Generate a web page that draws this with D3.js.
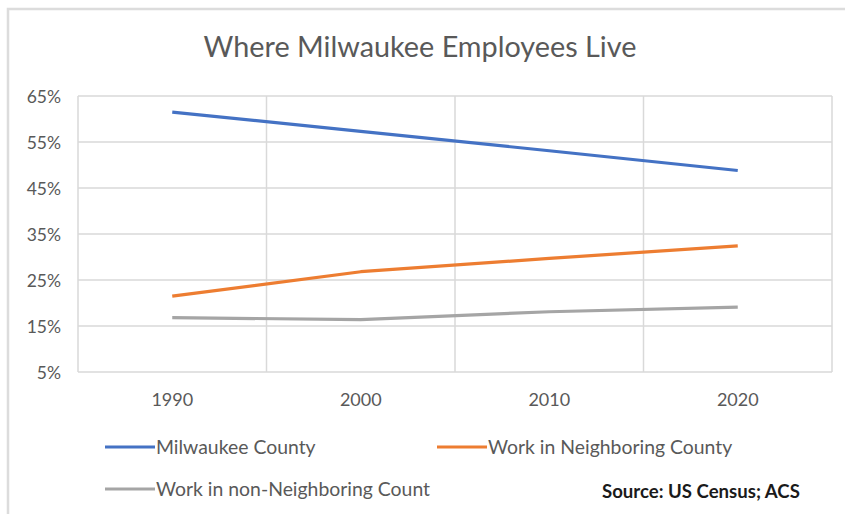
<!DOCTYPE html>
<html>
<head>
<meta charset="utf-8">
<script src="https://cdn.jsdelivr.net/npm/d3@7"></script>
<style>
  html, body { margin: 0; padding: 0; background: #fff; }
  svg { display: block; font-family: Lato, "Open Sans", sans-serif; }
</style>
</head>
<body>
<svg id="chart" width="845" height="514"></svg>
<script>
// Census years on the category axis
const years = ["1990", "2000", "2010", "2020"];

// Share of Milwaukee employees by place of residence (percent)
const milwaukeeCounty = [61.5, 57.3, 53.1, 48.8];
const neighboringCounty = [21.5, 26.8, 29.7, 32.4];
const nonNeighboringCounty = [16.8, 16.4, 18.1, 19.1];

const seriesNames = ["Milwaukee County", "Work in Neighboring County", "Work in non-Neighboring Count"];
const seriesColors = ["#4472C4", "#ED7D31", "#A5A5A5"];

const yTicks = [5, 15, 25, 35, 45, 55, 65];

const chartTitle = "Where Milwaukee Employees Live";
const sourceNote = "Source: US Census; ACS";

const series = [milwaukeeCounty, neighboringCounty, nonNeighboringCounty].map((vals, i) => ({
  name: seriesNames[i],
  color: seriesColors[i],
  values: vals.map((v, j) => ({ year: years[j], value: v }))
}));

const svg = d3.select("#chart");
const W = 845, H = 514;
const plot = { left: 78, right: 832, top: 96, bottom: 372 };

// chart frame (top and left edges)
svg.append("path")
  .attr("d", `M8,${H} L8,9 L${W},9`)
  .attr("fill", "none")
  .attr("stroke", "#dcdcdc")
  .attr("stroke-width", 2.5);

// title
svg.append("text")
  .attr("x", 420).attr("y", 57)
  .attr("text-anchor", "middle")
  .attr("font-size", 28.8)
  .attr("fill", "#595959")
  .text(chartTitle);

const x = d3.scaleBand().domain(years).range([plot.left, plot.right]);
const y = d3.scaleLinear().domain([5, 65]).range([plot.bottom, plot.top]);

// horizontal gridlines
svg.append("g")
  .selectAll("line")
  .data(yTicks)
  .join("line")
  .attr("x1", plot.left).attr("x2", plot.right)
  .attr("y1", d => y(d)).attr("y2", d => y(d))
  .attr("stroke", "#d9d9d9").attr("stroke-width", 1.5);

// vertical gridlines at category boundaries
const bounds = years.map(d => x(d)).concat([x(years[years.length - 1]) + x.bandwidth()]);
svg.append("g")
  .selectAll("line")
  .data(bounds)
  .join("line")
  .attr("x1", d => d).attr("x2", d => d)
  .attr("y1", plot.top).attr("y2", plot.bottom)
  .attr("stroke", "#d9d9d9").attr("stroke-width", 1.5);

// y axis labels
const yAxis = d3.axisLeft(y).tickValues(yTicks).tickFormat(d => d + "%").tickSize(0).tickPadding(17);
const gy = svg.append("g").attr("transform", `translate(${plot.left},0)`).call(yAxis);
gy.select(".domain").remove();
gy.selectAll("text")
  .attr("font-family", "Lato, sans-serif")
  .attr("font-size", 17.5)
  .attr("fill", "#595959")
  .attr("dy", "0.36em");

// x axis labels
const xAxis = d3.axisBottom(x).tickSize(0).tickPadding(21);
const gx = svg.append("g").attr("transform", `translate(0,${plot.bottom})`).call(xAxis);
gx.select(".domain").remove();
gx.selectAll("text")
  .attr("font-family", "Lato, sans-serif")
  .attr("font-size", 18)
  .attr("fill", "#595959");

// series lines
const line = d3.line()
  .x(d => x(d.year) + x.bandwidth() / 2)
  .y(d => y(d.value));

svg.append("g")
  .selectAll("path")
  .data(series)
  .join("path")
  .attr("d", d => line(d.values))
  .attr("fill", "none")
  .attr("stroke", d => d.color)
  .attr("stroke-width", 3.2)
  .attr("stroke-linejoin", "round");

// legend
const legendPos = [[105, 447], [437, 447], [105, 489]];
const lg = svg.append("g")
  .selectAll("g")
  .data(series)
  .join("g")
  .attr("transform", (d, i) => `translate(${legendPos[i][0]},${legendPos[i][1]})`);
lg.append("line")
  .attr("x1", 0).attr("x2", 50)
  .attr("stroke", d => d.color).attr("stroke-width", 3.2);
lg.append("text")
  .attr("x", 51).attr("dy", "0.36em")
  .attr("font-size", 19.4)
  .attr("fill", "#595959")
  .text(d => d.name);

// source note
svg.append("text")
  .attr("x", 602).attr("y", 498)
  .attr("font-size", 18.6)
  .attr("font-weight", "bold")
  .attr("fill", "#1a1a1a")
  .text(sourceNote);
</script>
</body>
</html>
